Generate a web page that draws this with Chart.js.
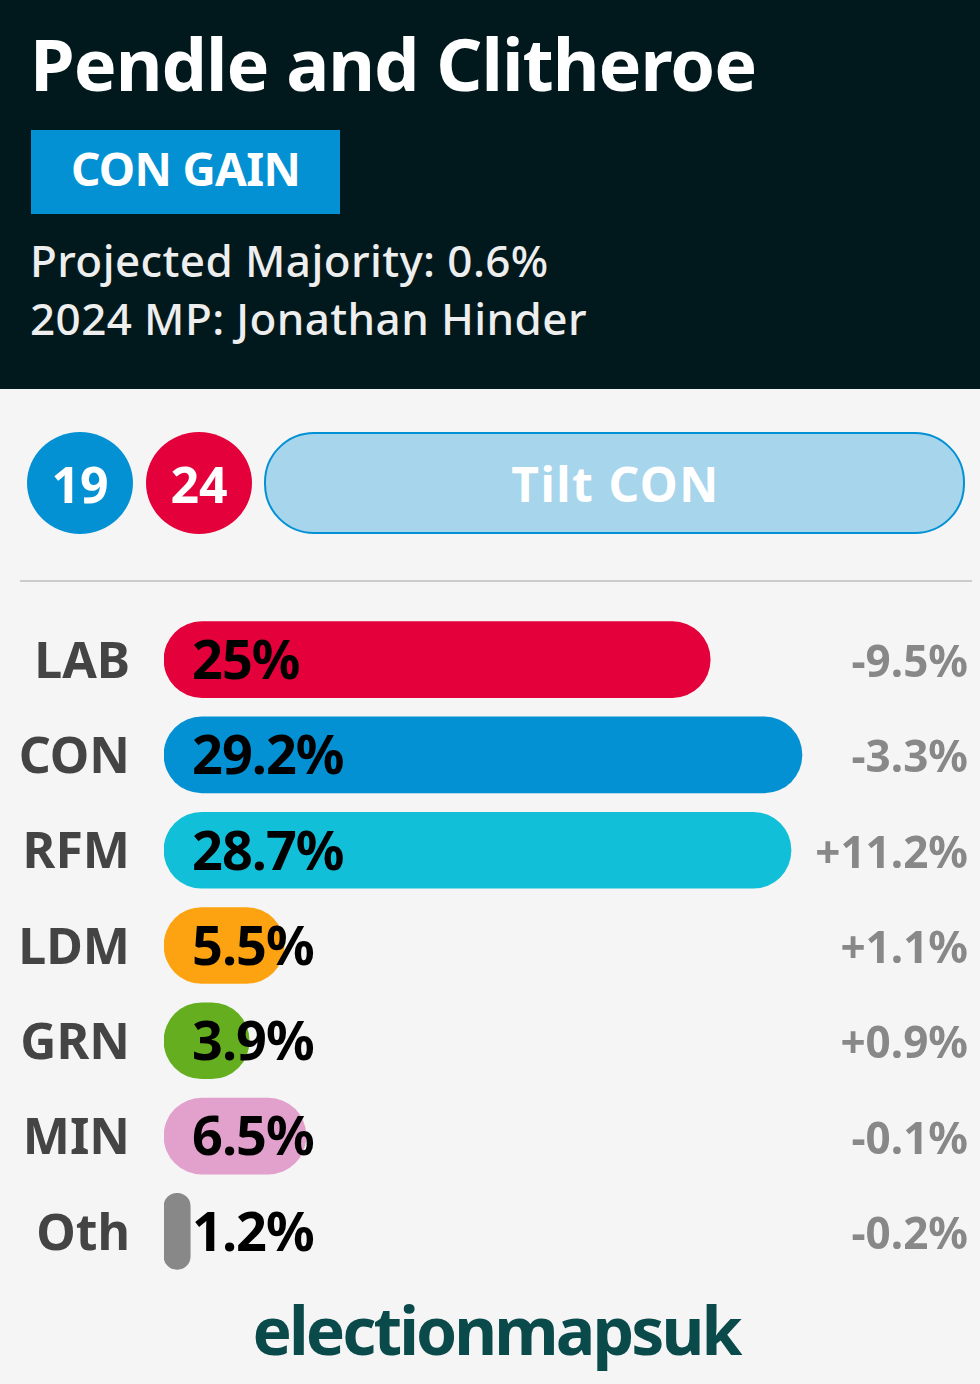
<!DOCTYPE html>
<html>
<head>
<meta charset="utf-8">
<script src="https://cdn.jsdelivr.net/npm/chart.js@4"></script>
<style>
html, body { margin: 0; padding: 0; background: #f5f5f5; }
body { width: 980px; height: 1384px; position: relative; overflow: hidden; font-family: "Noto Sans", sans-serif; }
.head { position: absolute; left: 0; top: 0; width: 980px; height: 389px; background: #01191c; color: #fff; }
.title { position: absolute; left: 30px; top: 19px; font-size: 72px; line-height: 88px; font-weight: 700; letter-spacing: -1px; white-space: nowrap; }
.gain { position: absolute; left: 31px; top: 130px; width: 309px; height: 84px; background: #0391d4; font-size: 46px; line-height: 76px; font-weight: 700; text-align: center; letter-spacing: -0.7px; }
.sub { position: absolute; left: 30px; font-size: 44px; line-height: 56px; font-weight: 500; color: #eee; white-space: nowrap; letter-spacing: 0.4px; }
.circle { position: absolute; top: 432px; width: 106px; height: 102px; border-radius: 50%; color: #fff; font-size: 50px; line-height: 104px; font-weight: 700; text-align: center; }
.tilt { position: absolute; left: 264px; top: 432px; width: 697px; height: 98px; border: 2px solid #0391d4; border-radius: 50px; background: #a6d5ec; color: #fff; font-size: 48px; line-height: 100px; font-weight: 700; text-align: center; letter-spacing: 1.5px; text-indent: 2px; }
.rule { position: absolute; left: 20px; top: 580px; width: 952px; height: 2px; background: #ccc; }
.brand { position: absolute; left: 0; top: 1286px; width: 992px; text-align: center; color: #0a4a4a; font-size: 66px; line-height: 86px; font-weight: 700; letter-spacing: -2.9px; }
#wrap { position: absolute; left: 0; top: 612px; width: 980px; height: 667px; }
</style>
</head>
<body>
<div class="head">
  <div class="title">Pendle and Clitheroe</div>
  <div class="gain">CON GAIN</div>
  <div class="sub" style="top:232px">Projected Majority: 0.6%</div>
  <div class="sub" style="top:290px">2024 MP: Jonathan Hinder</div>
</div>
<div class="circle" style="left:27px;background:#0391d4">19</div>
<div class="circle" style="left:146px;background:#e4003b">24</div>
<div class="tilt">Tilt CON</div>
<div class="rule"></div>
<div id="wrap"><canvas id="myChart" width="980" height="667"></canvas></div>
<div class="brand">electionmapsuk</div>
<script>
const parties = ['LAB', 'CON', 'RFM', 'LDM', 'GRN', 'MIN', 'Oth'];
const shares = [25, 29.2, 28.7, 5.5, 3.9, 6.5, 1.2];
const changes = ['-9.5%', '-3.3%', '+11.2%', '+1.1%', '+0.9%', '-0.1%', '-0.2%'];
const colours = ['#e4003b', '#0391d4', '#12bfd9', '#fda312', '#64ae1f', '#e2a0cc', '#888888'];

// writes the share on top of each bar
const shareLabels = {
    id: 'shareLabels',
    afterDatasetsDraw(chart) {
        const ctx = chart.ctx;
        const meta = chart.getDatasetMeta(0);
        ctx.save();
        ctx.fillStyle = '#000';
        ctx.font = '700 54px "Noto Sans"';
        ctx.textBaseline = 'middle';
        ctx.letterSpacing = '-1px';
        meta.data.forEach((bar, i) => {
            ctx.fillText(shares[i] + '%', chart.scales.x.left + 28, bar.y + 4);
        });
        ctx.restore();
    }
};

// Noto sits a bit high on the middle baseline, nudge the axis labels down
const nudgeTicks = {
    id: 'nudgeTicks',
    beforeDraw(chart) {
        chart.scales.y.getLabelItems().forEach(item => {
            if (!item.nudged) { item.textOffset += 4; item.nudged = true; }
        });
        chart.scales.y2.getLabelItems().forEach(item => {
            if (!item.nudged) { item.textOffset += 5; item.nudged = true; }
        });
    }
};

const ctx = document.getElementById('myChart').getContext('2d');
const myChart = new Chart(ctx, {
    type: 'bar',
    data: {
        labels: parties,
        datasets: [{
            data: shares,
            backgroundColor: colours,
            borderRadius: 38,
            borderSkipped: false,
            barThickness: 76,
            yAxisID: 'y'
        }]
    },
    plugins: [shareLabels, nudgeTicks],
    options: {
        indexAxis: 'y',
        responsive: false,
        animation: false,
        layout: { padding: 0 },
        plugins: { legend: { display: false }, tooltip: { enabled: false } },
        scales: {
            x: {
                display: false,
                min: 0,
                max: 36.8
            },
            y: {
                position: 'left',
                afterFit(scale) { scale.width = 164; scale.paddingTop = 0; scale.paddingBottom = 0; },
                grid: { display: false, drawTicks: false },
                border: { display: false },
                ticks: { color: '#444', font: { family: 'Noto Sans', size: 50, weight: '700' }, padding: 34 }
            },
            y2: {
                type: 'category',
                position: 'right',
                labels: changes,
                offset: true,
                afterFit(scale) { scale.width = 12; scale.paddingTop = 0; scale.paddingBottom = 0; },
                grid: { display: false, drawTicks: false },
                border: { display: false },
                ticks: { color: '#888', mirror: true, padding: 0, font: { family: 'Noto Sans', size: 44, weight: '700' } }
            }
        }
    }
});
</script>
</body>
</html>
